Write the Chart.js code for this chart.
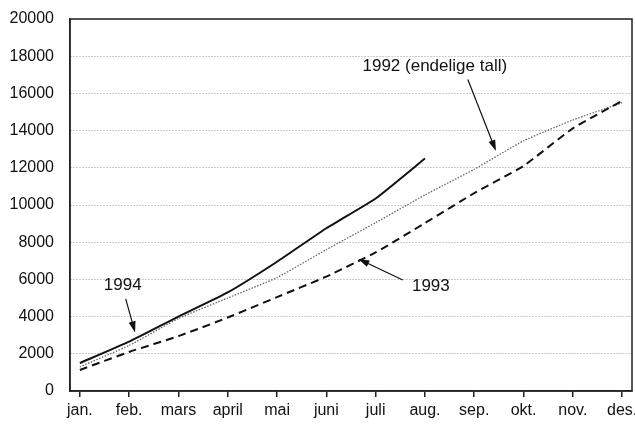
<!DOCTYPE html>
<html>
<head>
<meta charset="utf-8">
<script src="https://cdn.jsdelivr.net/npm/chart.js@4"></script>
<style>
  html, body { margin: 0; padding: 0; background: #fff; }
  #wrap { width: 635px; height: 424px; position: relative; }
</style>
</head>
<body>
<div id="wrap"><canvas id="chart"></canvas></div>
<script>
const months = ["jan.", "feb.", "mars", "april", "mai", "juni", "juli", "aug.", "sep.", "okt.", "nov.", "des."];
const values1994 = [1500, 2650, 4000, 5300, 6950, 8750, 10350, 12500];
const values1993 = [1130, 2100, 2950, 3950, 5050, 6150, 7450, 9030, 10640, 12100, 14120, 15600];
const values1992 = [1300, 2450, 3900, 5000, 6100, 7600, 9050, 10540, 11920, 13450, 14570, 15500];
const yTicks = [0, 2000, 4000, 6000, 8000, 10000, 12000, 14000, 16000, 18000, 20000];

// annotation labels and arrows, in data units (x = month index)
const notes = [
  { text: "1994", at: [0.87, 5700], from: [0.93, 4950], to: [1.12, 3150] },
  { text: "1993", at: [7.12, 5650], from: [6.55, 5970], to: [5.65, 7100] },
  { text: "1992 (endelige tall)", at: [7.2, 17450], from: [7.87, 16750], to: [8.44, 12900] },
];

const toPoints = (arr) => arr.map((v, i) => ({ x: i, y: v }));

const notesPlugin = {
  id: "notes",
  afterDraw(chart) {
    const { ctx, chartArea: a, scales: { x, y } } = chart;
    ctx.save();
    // box round the plot
    ctx.strokeStyle = "#222";
    ctx.lineWidth = 1.5;
    ctx.strokeRect(a.left, a.top, a.right - a.left, a.bottom - a.top);

    ctx.fillStyle = "#111";
    ctx.strokeStyle = "#111";
    ctx.font = "17px 'Liberation Sans', Arial, sans-serif";
    ctx.textAlign = "center";
    ctx.textBaseline = "middle";
    notes.forEach((n) => {
      ctx.fillText(n.text, x.getPixelForValue(n.at[0]), y.getPixelForValue(n.at[1]));
      const x1 = x.getPixelForValue(n.from[0]), y1 = y.getPixelForValue(n.from[1]);
      const x2 = x.getPixelForValue(n.to[0]), y2 = y.getPixelForValue(n.to[1]);
      const ang = Math.atan2(y2 - y1, x2 - x1);
      ctx.lineWidth = 1.2;
      ctx.beginPath();
      ctx.moveTo(x1, y1);
      ctx.lineTo(x2 - 6 * Math.cos(ang), y2 - 6 * Math.sin(ang));
      ctx.stroke();
      ctx.beginPath();
      ctx.moveTo(x2, y2);
      ctx.lineTo(x2 - 11 * Math.cos(ang) + 3.5 * Math.sin(ang), y2 - 11 * Math.sin(ang) - 3.5 * Math.cos(ang));
      ctx.lineTo(x2 - 11 * Math.cos(ang) - 3.5 * Math.sin(ang), y2 - 11 * Math.sin(ang) + 3.5 * Math.cos(ang));
      ctx.closePath();
      ctx.fill();
    });
    ctx.restore();
  },
};

Chart.defaults.font.family = "'Liberation Sans', Arial, sans-serif";
Chart.defaults.font.size = 16;
Chart.defaults.color = "#111";

new Chart(document.getElementById("chart"), {
  type: "line",
  data: {
    datasets: [
      {
        label: "1994",
        data: toPoints(values1994),
        borderColor: "#111",
        borderWidth: 2,
        pointRadius: 0,
        tension: 0.15,
      },
      {
        label: "1993",
        data: toPoints(values1993),
        borderColor: "#111",
        borderWidth: 2,
        borderDash: [8, 5],
        pointRadius: 0,
        tension: 0.15,
      },
      {
        label: "1992 (endelige tall)",
        data: toPoints(values1992),
        borderColor: "#666",
        borderWidth: 1.3,
        borderDash: [1.5, 1.5],
        pointRadius: 0,
        tension: 0.15,
      },
    ],
  },
  options: {
    responsive: true,
    maintainAspectRatio: false,
    animation: false,
    layout: { padding: { top: 19, right: 3, left: 0, bottom: 0 } },
    plugins: { legend: { display: false }, tooltip: { enabled: false } },
    scales: {
      x: {
        type: "linear",
        min: -0.2,
        max: 11.2,
        afterBuildTicks: (scale) => {
          scale.ticks = months.map((m, i) => ({ value: i }));
        },
        afterFit: (scale) => {
          scale.height = 33;
          scale.paddingLeft = 0;
          scale.paddingRight = 0;
        },
        ticks: {
          autoSkip: false,
          maxRotation: 0,
          padding: 4,
          callback: (v) => months[v],
        },
        grid: { drawOnChartArea: false, drawTicks: true, tickLength: 6, color: "#222", lineWidth: 1.5 },
        border: { color: "#222", width: 1.5 },
      },
      y: {
        min: 0,
        max: 20000,
        afterBuildTicks: (scale) => {
          scale.ticks = yTicks.map((v) => ({ value: v }));
        },
        afterFit: (scale) => {
          scale.width = 70;
          scale.paddingTop = 0;
          scale.paddingBottom = 0;
        },
        ticks: { padding: 16, callback: (v) => String(v) },
        grid: { drawTicks: false, color: "#999", lineWidth: 1 },
        border: { color: "#222", width: 1.5, dash: [1, 2] },
      },
    },
  },
  plugins: [notesPlugin],
});
</script>
</body>
</html>
